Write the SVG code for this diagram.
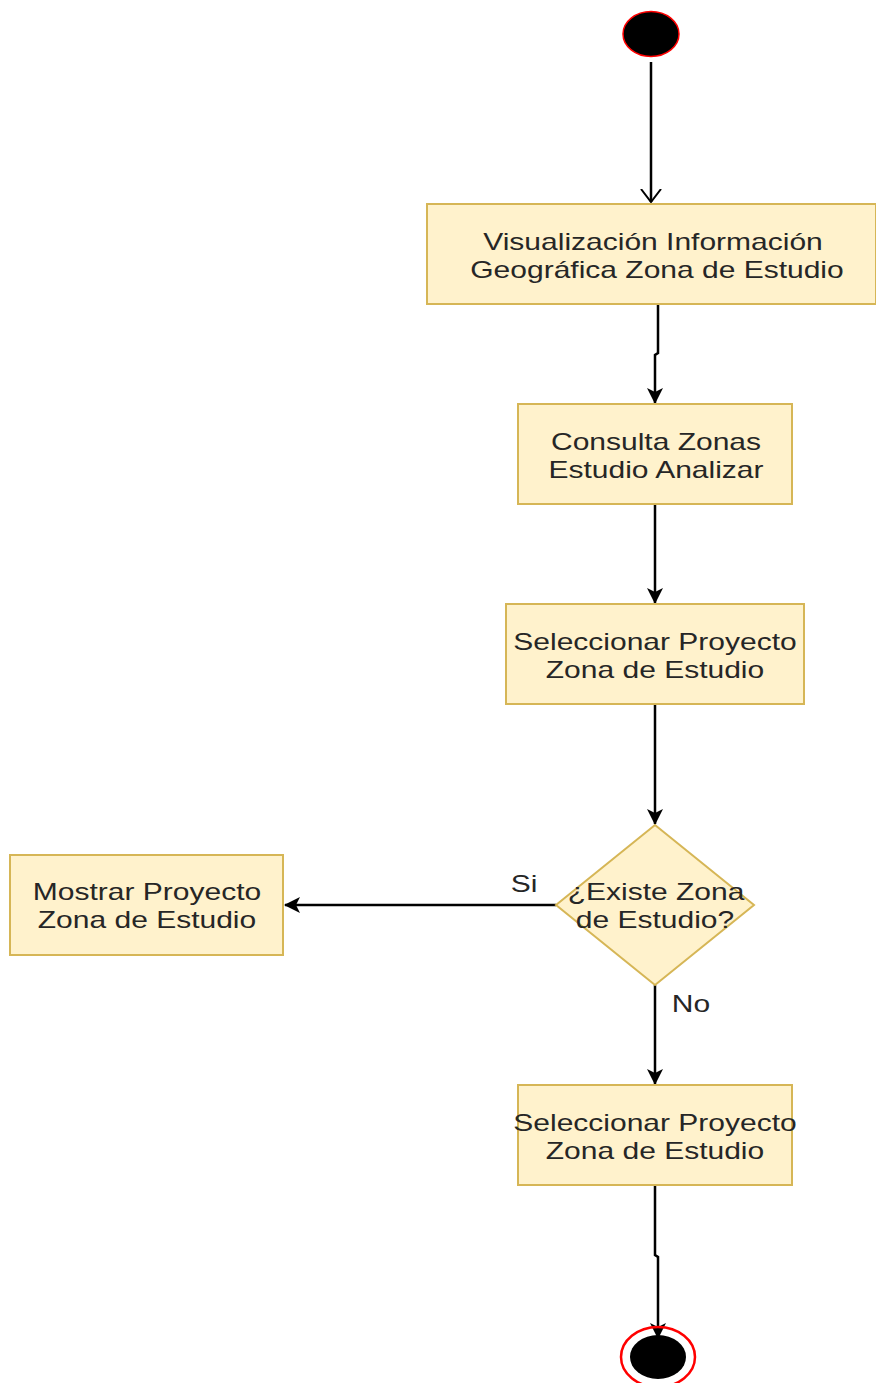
<svg xmlns="http://www.w3.org/2000/svg" width="876" height="1383" viewBox="0 0 876 1383">
  <style>
    .box { fill: #fff2cc; stroke: #d6b656; stroke-width: 2; }
    .edge { fill: none; stroke: #000; stroke-width: 2.5; }
    .lbl { font-family: "Liberation Sans", Arial, sans-serif; font-size: 24px; fill: #262626; text-anchor: middle; }
  </style>
  <defs>
    <marker id="arrow" viewBox="0 0 16 16" refX="15" refY="8" markerWidth="16" markerHeight="16" markerUnits="userSpaceOnUse" orient="auto">
      <path d="M0,0 L16,8 L0,16 L4,8 Z" fill="#000"/>
    </marker>
    <marker id="open" viewBox="0 0 14 22" refX="13" refY="11" markerWidth="14" markerHeight="22" markerUnits="userSpaceOnUse" orient="auto">
      <path d="M0,1 L13,11 L0,21" fill="none" stroke="#000" stroke-width="2"/>
    </marker>
  </defs>

  <g id="connectors">
    <path class="edge" d="M651,62 L651,202" marker-end="url(#open)"/>
    <path class="edge" d="M658,304 L658,353 L655,355 L655,403" marker-end="url(#arrow)"/>
    <path class="edge" d="M655,504 L655,603" marker-end="url(#arrow)"/>
    <path class="edge" d="M655,704 L655,824" marker-end="url(#arrow)"/>
    <path class="edge" d="M556,905 L285,905" marker-end="url(#arrow)"/>
    <path class="edge" d="M655,985 L655,1084" marker-end="url(#arrow)"/>
    <path class="edge" d="M655,1185 L655,1255 L658,1257 L658,1338" marker-end="url(#arrow)"/>
    <text class="lbl" transform="translate(524,892) scale(1.25,1)">Si</text>
    <text class="lbl" transform="translate(691,1012) scale(1.25,1)">No</text>
  </g>

  <g id="start">
    <ellipse cx="651" cy="34" rx="28" ry="22.5" fill="#000" stroke="#ff0000" stroke-width="1.5"/>
  </g>

  <g id="visualizacion">
    <rect class="box" x="427" y="204" width="449" height="100"/>
    <text class="lbl" transform="translate(653,250) scale(1.25,1)">Visualización Información</text>
    <text class="lbl" transform="translate(657,278) scale(1.25,1)">Geográfica Zona de Estudio</text>
  </g>

  <g id="consulta">
    <rect class="box" x="518" y="404" width="274" height="100"/>
    <text class="lbl" transform="translate(656,450) scale(1.25,1)">Consulta Zonas</text>
    <text class="lbl" transform="translate(656,478) scale(1.25,1)">Estudio Analizar</text>
  </g>

  <g id="seleccionar1">
    <rect class="box" x="506" y="604" width="298" height="100"/>
    <text class="lbl" transform="translate(655,650) scale(1.25,1)">Seleccionar Proyecto</text>
    <text class="lbl" transform="translate(655,678) scale(1.25,1)">Zona de Estudio</text>
  </g>

  <g id="decision">
    <polygon class="box" points="655,825 754,905 655,985 556,905"/>
    <text class="lbl" transform="translate(656,900) scale(1.25,1)">¿Existe Zona</text>
    <text class="lbl" transform="translate(655,928) scale(1.25,1)">de Estudio?</text>
  </g>

  <g id="mostrar">
    <rect class="box" x="10" y="855" width="273" height="100"/>
    <text class="lbl" transform="translate(147,900) scale(1.25,1)">Mostrar Proyecto</text>
    <text class="lbl" transform="translate(147,928) scale(1.25,1)">Zona de Estudio</text>
  </g>

  <g id="seleccionar2">
    <rect class="box" x="518" y="1085" width="274" height="100"/>
    <text class="lbl" transform="translate(655,1131) scale(1.25,1)">Seleccionar Proyecto</text>
    <text class="lbl" transform="translate(655,1159) scale(1.25,1)">Zona de Estudio</text>
  </g>

  <g id="end">
    <ellipse cx="658" cy="1357" rx="37" ry="30" fill="none" stroke="#ff0000" stroke-width="2.5"/>
    <ellipse cx="658" cy="1357" rx="28" ry="22" fill="#000"/>
  </g>
</svg>
